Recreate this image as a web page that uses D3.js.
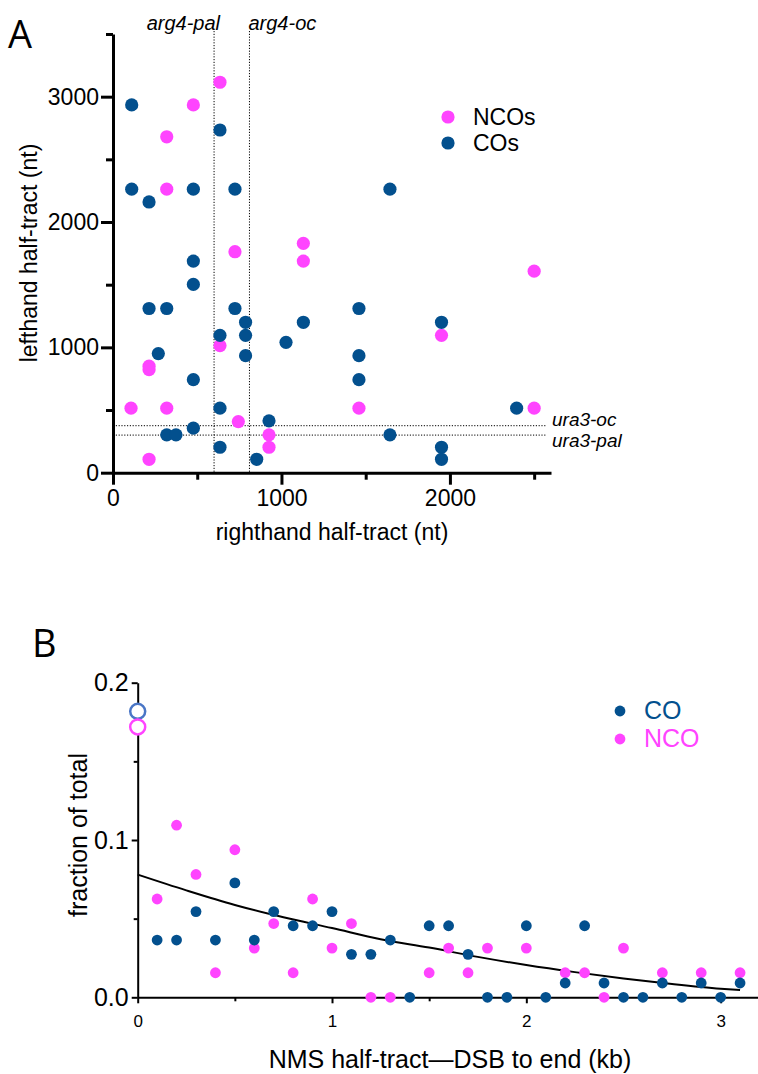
<!DOCTYPE html>
<html>
<head>
<meta charset="utf-8">
<script src="https://d3js.org/d3.v7.min.js"></script>
<style>
  body { margin: 0; background: #fff; }
  svg text { font-family: "Liberation Sans", Arial, sans-serif; fill: #000; }
</style>
</head>
<body>
<svg id="fig" width="758" height="1074"></svg>
<script>
// ---- panel A data (nt) ----
var ncoRight = [477, 635, 319, 319, 724, 1130, 1130, 2500, 635, 214, 214, 107, 319, 1460, 744, 926, 926, 214, 1950, 2500];
var ncoLeft  = [2934, 3115, 2680, 2262, 1763, 1830, 1688, 1608, 1014, 850, 822, 515, 515, 515, 408, 302, 203, 107, 1096, 515];
var coRight = [111, 635, 111, 214, 477, 724, 477, 1644, 477, 214, 319, 724, 787, 1130, 1460, 635, 787, 1027, 269, 787, 1460, 477, 1460, 635, 926, 477, 319, 374, 635, 853, 1950, 2396, 1644, 1950, 1950];
var coLeft  = [2934, 2734, 2262, 2160, 2262, 2262, 1688, 2262, 1502, 1310, 1310, 1310, 1200, 1200, 1310, 1096, 1096, 1040, 950, 934, 934, 742, 742, 515, 414, 355, 302, 302, 203, 107, 1200, 515, 302, 203, 107];
var argSites = [600, 810], argNames = ["arg4-pal", "arg4-oc"];
var uraSites = [375, 300], uraNames = ["ura3-oc", "ura3-pal"];
var aLegend = ["NCOs", "COs"];

// ---- panel B data (kb, fraction of total) ----
var coX = [0.1,0.2,0.3,0.4,0.5,0.6,0.7,0.8,0.9,1.0,1.1,1.2,1.3,1.4,1.5,1.6,1.7,1.8,1.9,2.0,2.1,2.2,2.3,2.4,2.5,2.6,2.7,2.8,2.9,3.0,3.1];
var coY = [0.0364,0.0364,0.0545,0.0364,0.0727,0.0364,0.0545,0.0455,0.0455,0.0545,0.0273,0.0273,0.0364,0,0.0455,0.0455,0.0273,0,0,0.0455,0,0.0091,0.0455,0.0091,0,0,0.0091,0,0.0091,0,0.0091];
var ncoX = [0.1,0.2,0.3,0.4,0.5,0.6,0.7,0.8,0.9,1.0,1.1,1.2,1.3,1.5,1.6,1.7,1.8,2.0,2.2,2.3,2.4,2.5,2.7,2.9,3.1];
var ncoY = [0.0625,0.1094,0.0781,0.0156,0.0938,0.0313,0.0469,0.0156,0.0625,0.0313,0.0469,0,0,0.0156,0.0313,0.0156,0.0313,0.0313,0.0156,0.0156,0,0.0313,0.0156,0.0156,0.0156];
var zeroLen = [0.1818, 0.1719]; // CO, NCO at 0 kb
var fitX = [0, 0.25, 0.5, 0.75, 1.0, 1.25, 1.5, 1.75, 2.0, 2.25, 2.5, 2.75, 3.0, 3.1];
var fitY = [0.078, 0.068, 0.0587, 0.0509, 0.0440, 0.0369, 0.0316, 0.0257, 0.0205, 0.0160, 0.0120, 0.0085, 0.0055, 0.0046];
var bLegend = ["CO", "NCO"];

var magenta = "#ff44ff", blue = "#03508e", openBlue = "#4a76c6";
var svg = d3.select("#fig");

// ================= panel A =================
var xA = d3.scaleLinear().domain([0, 2600]).range([113, 551]);
var yA = d3.scaleLinear().domain([0, 3500]).range([472.7, 34]);

svg.append("text").attr("x", 8).attr("y", 48)
  .style("font-family", "'Open Sans', sans-serif").attr("font-size", 38).text("A");

var gxA = svg.append("g").attr("transform", "translate(0," + yA(0) + ")");
gxA.call(d3.axisBottom(xA).tickValues([500, 1500, 2500]).tickSize(7).tickSizeOuter(0).tickFormat(""));
gxA.call(function(g){ g.select(".domain").remove(); });
var gxA2 = svg.append("g").attr("transform", "translate(0," + yA(0) + ")")
  .call(d3.axisBottom(xA).tickValues([0, 1000, 2000]).tickSize(12).tickSizeOuter(0).tickPadding(5).tickFormat(d3.format("d")));
var gyA = svg.append("g").attr("transform", "translate(" + xA(0) + ",0)");
gyA.call(d3.axisLeft(yA).tickValues([500, 1500, 2500, 3500]).tickSize(7).tickSizeOuter(0).tickFormat(""));
gyA.call(function(g){ g.select(".domain").remove(); });
var gyA2 = svg.append("g").attr("transform", "translate(" + xA(0) + ",0)")
  .call(d3.axisLeft(yA).tickValues([0, 1000, 2000, 3000]).tickSize(12).tickSizeOuter(0).tickPadding(2).tickFormat(d3.format("d")));
svg.selectAll(".tick line, .domain").attr("stroke", "#000").attr("stroke-width", 3);
[gxA2, gyA2].forEach(function(g){
  g.selectAll("text").attr("font-size", 23).style("font-family", "'Liberation Sans', Arial, sans-serif");
});

// dotted site lines
svg.selectAll(".argline").data(argSites).enter().append("line")
  .attr("x1", function(d){ return xA(d); }).attr("x2", function(d){ return xA(d); })
  .attr("y1", 31).attr("y2", yA(0))
  .attr("stroke", "#000").attr("stroke-width", 1).attr("stroke-dasharray", "1.2,1.6");
svg.selectAll(".uraline").data(uraSites).enter().append("line")
  .attr("x1", xA(0)).attr("x2", 547)
  .attr("y1", function(d){ return yA(d); }).attr("y2", function(d){ return yA(d); })
  .attr("stroke", "#000").attr("stroke-width", 1).attr("stroke-dasharray", "1.2,1.6");
svg.append("text").attr("x", xA(argSites[0]) + 6).attr("y", 30).attr("text-anchor", "end")
  .attr("font-size", 20).style("font-style", "italic").text(argNames[0]);
svg.append("text").attr("x", xA(argSites[1]) - 1).attr("y", 30)
  .attr("font-size", 20).style("font-style", "italic").text(argNames[1]);
svg.append("text").attr("x", 552).attr("y", 425.5)
  .attr("font-size", 19).style("font-style", "italic").text(uraNames[0]);
svg.append("text").attr("x", 552).attr("y", 447)
  .attr("font-size", 19).style("font-style", "italic").text(uraNames[1]);

// points
svg.append("g").selectAll("circle").data(ncoRight).enter().append("circle")
  .attr("cx", function(d){ return xA(d); })
  .attr("cy", function(d, i){ return yA(ncoLeft[i]); })
  .attr("r", 6.6).attr("fill", magenta);
svg.append("g").selectAll("circle").data(coRight).enter().append("circle")
  .attr("cx", function(d){ return xA(d); })
  .attr("cy", function(d, i){ return yA(coLeft[i]); })
  .attr("r", 6.6).attr("fill", blue);

// legend A
aLegend.forEach(function(t, i){
  svg.append("circle").attr("cx", 448).attr("cy", 117 + i * 26).attr("r", 6.6).attr("fill", i == 0 ? magenta : blue);
  svg.append("text").attr("x", 473).attr("y", 125 + i * 26).attr("font-size", 23).text(t);
});

// axis labels A
svg.append("text").attr("x", 332).attr("y", 540).attr("text-anchor", "middle")
  .attr("font-size", 23).text("righthand half-tract (nt)");
svg.append("text").attr("transform", "translate(37,253) rotate(-90)").attr("text-anchor", "middle")
  .attr("font-size", 23).text("lefthand half-tract (nt)");

// ================= panel B =================
var xB = d3.scaleLinear().domain([0, 3.2]).range([137.7, 759.5]);
var yB = d3.scaleLinear().domain([0, 0.2]).range([997.3, 682.7]);

svg.append("text").attr("x", 32).attr("y", 657)
  .style("font-family", "'Open Sans', sans-serif").attr("font-size", 38).text("B");

var bAxes = svg.append("g").attr("class", "baxes");
var gxB = bAxes.append("g").attr("transform", "translate(0," + yB(0) + ")");
gxB.call(d3.axisBottom(xB).tickValues([0.5, 1.5, 2.5]).tickSize(4).tickSizeOuter(0).tickFormat(""));
gxB.call(function(g){ g.select(".domain").remove(); });
var gxB2 = bAxes.append("g").attr("transform", "translate(0," + yB(0) + ")")
  .call(d3.axisBottom(xB).tickValues([0, 1, 2, 3]).tickSize(6).tickSizeOuter(0).tickPadding(12).tickFormat(d3.format("d")));
var gyB = bAxes.append("g").attr("transform", "translate(" + xB(0) + ",0)");
gyB.call(d3.axisLeft(yB).tickValues([0.05, 0.15]).tickSize(4).tickSizeOuter(0).tickFormat(""));
gyB.call(function(g){ g.select(".domain").remove(); });
var gyB2 = bAxes.append("g").attr("transform", "translate(" + xB(0) + ",0)")
  .call(d3.axisLeft(yB).tickValues([0, 0.1, 0.2]).tickSize(6).tickSizeOuter(0).tickPadding(3).tickFormat(d3.format(".1f")));
bAxes.selectAll(".tick line, .domain").attr("stroke", "#000").attr("stroke-width", 2);
gxB2.selectAll("text").attr("font-size", 17).style("font-family", "'Liberation Sans', Arial, sans-serif");
gyB2.selectAll("text").attr("font-size", 25).style("font-family", "'Liberation Sans', Arial, sans-serif");

// fitted curve
var fitLine = d3.line()
  .x(function(d){ return xB(d); })
  .y(function(d, i){ return yB(fitY[i]); })
  .curve(d3.curveMonotoneX);
svg.append("path").attr("d", fitLine(fitX)).attr("fill", "none").attr("stroke", "#000").attr("stroke-width", 2);

// points
svg.append("g").selectAll("circle").data(ncoX).enter().append("circle")
  .attr("cx", function(d){ return xB(d); })
  .attr("cy", function(d, i){ return yB(ncoY[i]); })
  .attr("r", 5.4).attr("fill", magenta);
svg.append("g").selectAll("circle").data(coX).enter().append("circle")
  .attr("cx", function(d){ return xB(d); })
  .attr("cy", function(d, i){ return yB(coY[i]); })
  .attr("r", 5.4).attr("fill", blue);
svg.append("g").selectAll("circle").data(zeroLen).enter().append("circle")
  .attr("cx", xB(0))
  .attr("cy", function(d){ return yB(d); })
  .attr("r", 7.5).attr("fill", "#fff").attr("stroke-width", 2.5)
  .attr("stroke", function(d, i){ return i == 0 ? openBlue : magenta; });

// legend B
bLegend.forEach(function(t, i){
  svg.append("circle").attr("cx", 620).attr("cy", 711 + i * 28).attr("r", 5.4).attr("fill", i == 0 ? blue : magenta);
  svg.append("text").attr("x", 644).attr("y", 719 + i * 28).attr("font-size", 25)
    .style("fill", i == 0 ? blue : magenta).text(t);
});

// axis labels B
svg.append("text").attr("x", 450).attr("y", 1068).attr("text-anchor", "middle")
  .attr("font-size", 25).text("NMS half-tract\u2014DSB to end (kb)");
svg.append("text").attr("transform", "translate(87,835) rotate(-90)").attr("text-anchor", "middle")
  .attr("font-size", 25).text("fraction of total");
</script>
</body>
</html>
